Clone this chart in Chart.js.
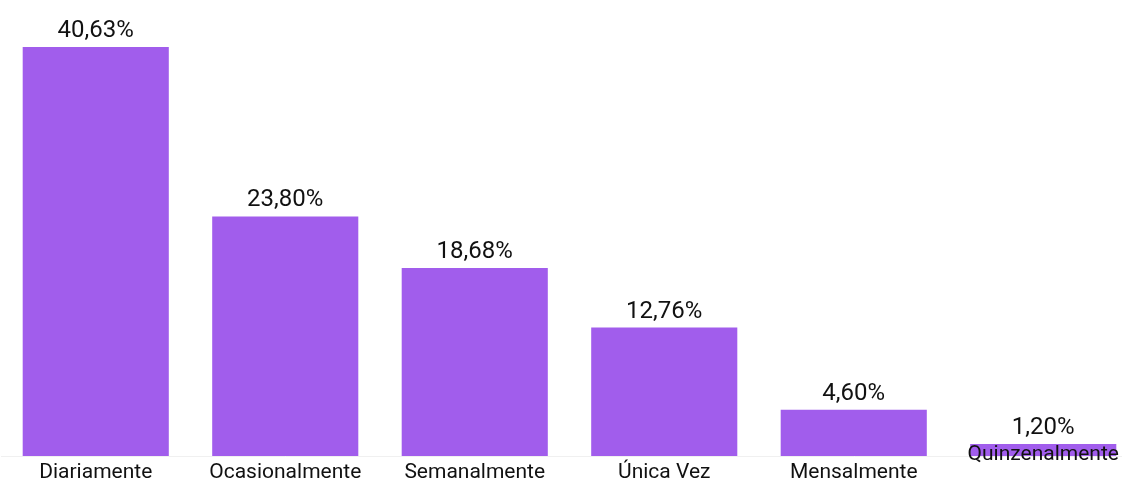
<!DOCTYPE html>
<html>
<head>
<meta charset="utf-8">
<script src="https://cdn.jsdelivr.net/npm/chart.js@4/dist/chart.umd.min.js"></script>
<style>
    html, body { margin: 0; padding: 0; background: #fff; overflow: hidden; }
    #wrap { width: 1138px; height: 481px; }
</style>
</head>
<body>
<div id="wrap"><canvas id="barChart"></canvas></div>
<script>
const categories = ["Diariamente", "Ocasionalmente", "Semanalmente", "Única Vez", "Mensalmente", "Quinzenalmente"];
const values = [40.63, 23.80, 18.68, 12.76, 4.60, 1.20];
const valueLabels = ["40,63%", "23,80%", "18,68%", "12,76%", "4,60%", "1,20%"];

// value labels above bars and category labels below them
const labelPlugin = {
    id: "labels",
    afterDatasetsDraw(chart) {
        const ctx = chart.ctx;
        const meta = chart.getDatasetMeta(0);
        const bottom = chart.chartArea.bottom;
        ctx.save();
        ctx.fillStyle = "#111";
        ctx.textAlign = "center";
        ctx.textBaseline = "middle";
        meta.data.forEach((bar, i) => {
            ctx.font = "24px Roboto";
            ctx.fillText(valueLabels[i], bar.x, bar.y - 16);
            ctx.font = "21px Roboto";
            // last label sits higher, overlapping its short bar
            const y = i === categories.length - 1 ? bottom - 1 : bottom + 17;
            ctx.fillText(categories[i], bar.x, y);
        });
        ctx.restore();
    }
};

new Chart(document.getElementById("barChart").getContext("2d"), {
    type: "bar",
    data: {
        labels: categories,
        datasets: [{
            data: values,
            backgroundColor: "#a15dec",
            borderWidth: 0,
            categoryPercentage: 1,
            barPercentage: 0.771
        }]
    },
    options: {
        responsive: true,
        maintainAspectRatio: false,
        animation: false,
        layout: { padding: { left: 1, right: 0, top: 0, bottom: 17 } },
        plugins: { legend: { display: false }, tooltip: { enabled: false } },
        scales: {
            x: {
                ticks: { display: false },
                grid: { display: false },
                border: { color: "#f0f0f0" }
            },
            y: {
                display: false,
                min: 0,
                max: 45.3
            }
        }
    },
    plugins: [labelPlugin]
});
</script>
</body>
</html>
